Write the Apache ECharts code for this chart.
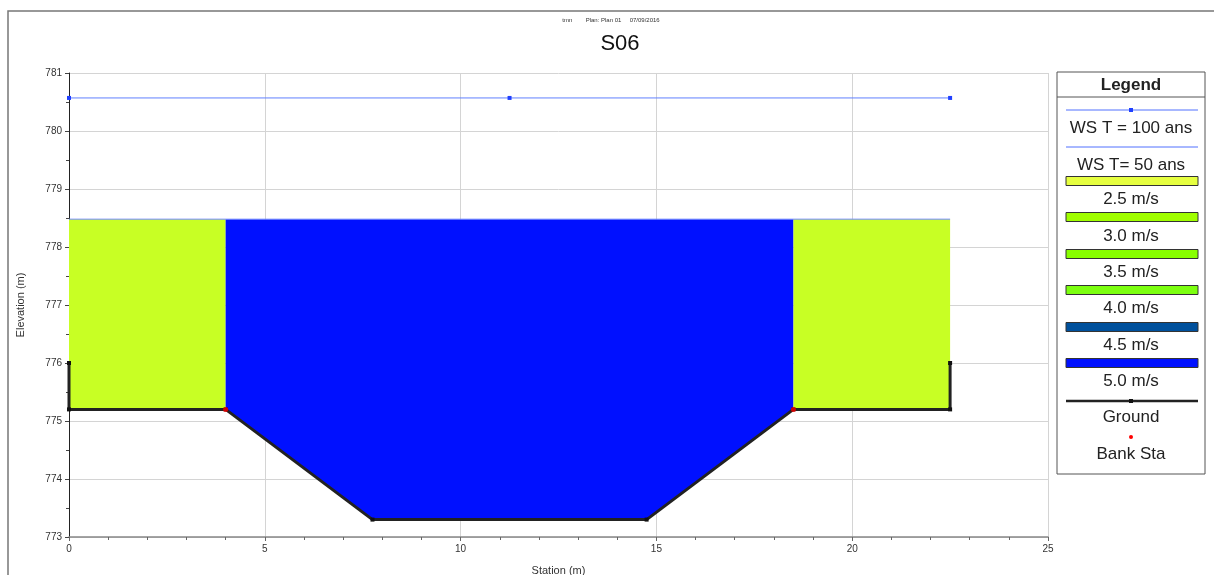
<!DOCTYPE html>
<html><head><meta charset="utf-8">
<script src="https://cdn.jsdelivr.net/npm/echarts@6/dist/echarts.min.js"></script>
<style>html,body{margin:0;padding:0;background:#fff}#c{width:1214px;height:575px}</style>
</head><body><div id="c"></div>
<script>
// ---- data ----
const groundStation = [0, 0, 4, 7.75, 14.75, 18.5, 22.5, 22.5];
const groundElev    = [776, 775.2, 775.2, 773.3, 773.3, 775.2, 775.2, 776];
const bankStation = [4, 18.5];
const bankElev = [775.2, 775.2];
const ws100Station = [0, 11.25, 22.5];
const ws100Elev = [780.57, 780.57, 780.57];
const ws50Station = [0, 22.5];
const ws50Elev = [778.48, 778.48];
const zoneStart = [0, 4, 18.5];
const zoneEnd = [4, 18.5, 22.5];
const zoneColor = ['#C8FF24', '#0010FF', '#C8FF24'];
const legendLabels = ['WS T = 100 ans', 'WS T= 50 ans', '2.5 m/s', '3.0 m/s', '3.5 m/s', '4.0 m/s', '4.5 m/s', '5.0 m/s', 'Ground', 'Bank Sta'];
const legendBarColors = ['#E6FF40', '#A0FF00', '#88FF00', '#7CFF10', '#00509C', '#0010FF'];
const xTicks = [0, 5, 10, 15, 20, 25];
const yTicks = [773, 774, 775, 776, 777, 778, 779, 780, 781];

const FONT = '"Liberation Sans", Arial, sans-serif';
const chart = echarts.init(document.getElementById('c'), null, {renderer: 'canvas'});

const groundData = groundStation.map((s, i) => [s, groundElev[i]]);

function zonePolygon(z, api) {
  const a = zoneStart[z], b = zoneEnd[z], ws = ws50Elev[0];
  const pts = [api.coord([a, ws]), api.coord([b, ws])];
  for (let i = groundStation.length - 1; i >= 0; i--) {
    const s = groundStation[i];
    if (s >= a && s <= b) pts.push(api.coord([s, groundElev[i]]));
  }
  return pts;
}

// legend graphics
const LX = 1057, LW = 148, LC = LX + LW / 2;
const lg = [];
lg.push({type: 'rect', shape: {x: LX, y: 72, width: LW, height: 402}, style: {fill: '#fff', stroke: '#555', lineWidth: 1}, z: 10});
lg.push({type: 'line', shape: {x1: LX, y1: 97, x2: LX + LW, y2: 97}, style: {stroke: '#555', lineWidth: 1}, z: 11});
lg.push({type: 'text', x: LC, y: 85, style: {text: 'Legend', font: 'bold 17px ' + FONT, fill: '#222', textAlign: 'center', textVerticalAlign: 'middle'}, z: 11});
const symY = [110, 147, 181, 217, 254, 290, 327, 363, 401, 437];
const txtY = [128, 165, 199, 236, 272, 308, 345, 381, 417, 454];
legendLabels.forEach((lab, i) => {
  lg.push({type: 'text', x: LC, y: txtY[i], style: {text: lab, font: '17px ' + FONT, fill: '#222', textAlign: 'center', textVerticalAlign: 'middle'}, z: 11});
  const y = symY[i];
  if (i === 0 || i === 1) {
    lg.push({type: 'line', shape: {x1: 1066, y1: y, x2: 1198, y2: y}, style: {stroke: '#5070FF', lineWidth: 1}, z: 11});
    if (i === 0) lg.push({type: 'rect', shape: {x: LC - 2, y: y - 2, width: 4, height: 4}, style: {fill: '#2040FF'}, z: 12});
  } else if (i >= 2 && i <= 7) {
    lg.push({type: 'rect', shape: {x: 1066, y: y - 4.5, width: 132, height: 9}, style: {fill: legendBarColors[i - 2], stroke: '#333', lineWidth: 1}, z: 11});
  } else if (i === 8) {
    lg.push({type: 'line', shape: {x1: 1066, y1: y, x2: 1198, y2: y}, style: {stroke: '#222', lineWidth: 2.5}, z: 11});
    lg.push({type: 'rect', shape: {x: LC - 2, y: y - 2, width: 4, height: 4}, style: {fill: '#111'}, z: 12});
  } else {
    lg.push({type: 'circle', shape: {cx: LC, cy: y, r: 2}, style: {fill: '#FF0000'}, z: 11});
  }
});

const option = {
  animation: false,
  backgroundColor: '#fff',
  textStyle: {fontFamily: FONT},
  grid: {left: 69, right: 166, top: 73, bottom: 38, containLabel: false, outerBoundsMode: 'none'},
  xAxis: {
    type: 'value', min: xTicks[0], max: xTicks[xTicks.length - 1], interval: 5,
    name: 'Station (m)', nameLocation: 'middle', nameGap: 28,
    nameTextStyle: {fontSize: 11, color: '#333'},
    axisLine: {onZero: false, lineStyle: {color: '#888', width: 1.5}},
    axisTick: {show: true, length: 4, lineStyle: {color: '#666'}},
    minorTick: {show: true, splitNumber: 5, length: 3, lineStyle: {color: '#666'}},
    axisLabel: {fontSize: 10, color: '#333', margin: 7},
    splitLine: {show: true, lineStyle: {color: '#d4d4d4', width: 1}}
  },
  yAxis: {
    type: 'value', min: yTicks[0], max: yTicks[yTicks.length - 1], interval: 1,
    name: 'Elevation (m)', nameLocation: 'middle', nameGap: 43, nameRotate: 90,
    nameTextStyle: {fontSize: 11, color: '#333'},
    axisLine: {show: true, onZero: false, lineStyle: {color: '#222', width: 1}},
    axisTick: {show: true, length: 4, lineStyle: {color: '#444'}},
    minorTick: {show: true, splitNumber: 2, length: 3, lineStyle: {color: '#444'}},
    axisLabel: {fontSize: 10, color: '#333', margin: 7},
    splitLine: {show: true, lineStyle: {color: '#d4d4d4', width: 1}}
  },
  graphic: [
    {type: 'rect', shape: {x: 8, y: 11, width: 1220, height: 580}, style: {fill: null, stroke: '#777', lineWidth: 1.5}, z: 0},
    {type: 'text', x: 611, y: 20, style: {text: 'tmn        Plan: Plan 01     07/09/2016', font: '6px ' + FONT, fill: '#333', textAlign: 'center', textVerticalAlign: 'middle'}},
    {type: 'text', x: 620, y: 44, style: {text: 'S06', font: '22px ' + FONT, fill: '#111', textAlign: 'center', textVerticalAlign: 'middle'}}
  ].concat(lg),
  series: [
    {
      type: 'custom', name: 'Velocity', z: 1,
      data: zoneStart.map((s, i) => [i]),
      renderItem: function (params, api) {
        const z = api.value(0);
        return {type: 'polygon', shape: {points: zonePolygon(z, api)}, style: {fill: zoneColor[z], stroke: null}};
      },
      encode: {x: [], y: []}
    },
    {
      type: 'line', name: 'WS T= 50 ans', z: 3,
      data: ws50Station.map((s, i) => [s, ws50Elev[i]]),
      symbol: 'none', lineStyle: {color: '#7088FF', width: 1}
    },
    {
      type: 'line', name: 'WS T = 100 ans', z: 3,
      data: ws100Station.map((s, i) => [s, ws100Elev[i]]),
      symbol: 'rect', symbolSize: 4, itemStyle: {color: '#2040FF'},
      lineStyle: {color: '#6080FF', width: 1}
    },
    {
      type: 'line', name: 'Ground', z: 4,
      data: groundData,
      symbol: 'rect', symbolSize: 4, itemStyle: {color: '#111'},
      lineStyle: {color: '#222', width: 3}
    },
    {
      type: 'scatter', name: 'Bank Sta', z: 5,
      data: bankStation.map((s, i) => [s, bankElev[i]]),
      symbol: 'circle', symbolSize: 5, itemStyle: {color: '#FF0000'}
    }
  ]
};
chart.setOption(option);
</script></body></html>
